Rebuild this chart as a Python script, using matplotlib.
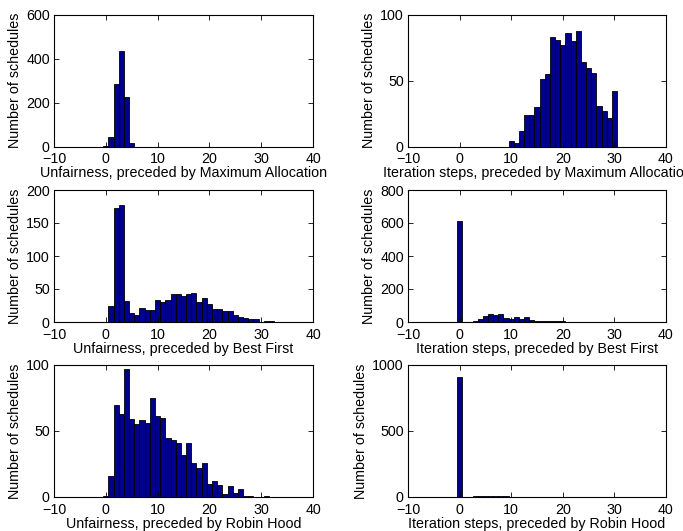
import matplotlib
matplotlib.use("Agg")
import matplotlib.pyplot as plt
from matplotlib.ticker import FixedLocator

plt.rcParams['font.family'] = ['Liberation Sans', 'DejaVu Sans']
plt.rcParams['font.size'] = 10.3

# ---- data (bin centres and counts) ----
unf_ma_bins = list(range(0, 33))
unf_ma_counts = [1, 44, 285, 438, 224, 15] + [0] * 27

iter_ma_bins = list(range(0, 31))
iter_ma_counts = [0] * 10 + [4, 3, 12, 24, 24, 30, 51, 55, 83, 81, 77, 86, 80, 88,
                             64, 60, 56, 31, 27, 22, 42]

unf_bf_bins = list(range(0, 33))
unf_bf_counts = [0, 25, 173, 178, 32, 13, 10, 21, 18, 18, 34, 30, 34, 43, 43, 40, 42,
                 44, 30, 36, 28, 20, 20, 17, 17, 10, 8, 6, 4, 5, 0, 1, 1]

iter_bf_bins = list(range(0, 31))
iter_bf_counts = [615, 2, 1, 9, 20, 38, 47, 44, 48, 22, 21, 30, 19, 30, 13, 5, 5, 6,
                  4, 8, 4, 3, 3, 2, 2, 2, 1, 1, 1, 0, 1]

unf_rh_bins = list(range(0, 32))
unf_rh_counts = [1, 16, 70, 63, 97, 59, 55, 58, 56, 75, 61, 60, 45, 43, 41, 32, 41,
                 26, 22, 26, 10, 12, 9, 2, 8, 3, 6, 1, 1, 0, 0, 1]

iter_rh_bins = list(range(0, 31))
iter_rh_counts = [911, 1, 3, 8, 9, 10, 9, 10, 6, 4, 3, 2, 2, 1, 1, 1, 1, 1, 1, 1,
                  1, 1, 1, 1, 1, 1, 1, 1, 1, 1, 1]

xlabels = ["Unfairness, preceded by Maximum Allocation",
           "Iteration steps, preceded by Maximum Allocation",
           "Unfairness, preceded by Best First",
           "Iteration steps, preceded by Best First",
           "Unfairness, preceded by Robin Hood",
           "Iteration steps, preceded by Robin Hood"]
yticks = [[0, 200, 400, 600], [0, 50, 100],
          [0, 50, 100, 150, 200], [0, 200, 400, 600, 800],
          [0, 50, 100], [0, 500, 1000]]
xticks = [-10, 0, 10, 20, 30, 40]
ylabel = "Number of schedules"

series = [(unf_ma_bins, unf_ma_counts), (iter_ma_bins, iter_ma_counts),
          (unf_bf_bins, unf_bf_counts), (iter_bf_bins, iter_bf_counts),
          (unf_rh_bins, unf_rh_counts), (iter_rh_bins, iter_rh_counts)]

W, H = 683, 531
fig = plt.figure(figsize=(W / 100, H / 100), dpi=100)

cols = [(54, 313), (408, 666)]
rows = [(15, 146.5), (190, 322), (365, 497)]
bar_color = (0, 0, 0.5625)

for i, ((bins, counts), xl, yt) in enumerate(zip(series, xlabels, yticks)):
    r, c = divmod(i, 2)
    x0, x1 = cols[c]
    y0, y1 = rows[r]
    ax = fig.add_axes([x0 / W, 1 - y1 / H, (x1 - x0) / W, (y1 - y0) / H])
    ax.bar(bins, counts, width=1.0, color=bar_color, edgecolor='black',
           linewidth=0.6, align='center')
    ax.set_xlim(-10, 40)
    ax.set_ylim(yt[0], yt[-1])
    ax.xaxis.set_major_locator(FixedLocator(xticks))
    ax.yaxis.set_major_locator(FixedLocator(yt))
    ax.set_xticklabels([f"{v:d}".replace('-', '\u2212') for v in xticks])
    ax.set_yticklabels([str(v) for v in yt])
    ax.tick_params(direction='in', length=3.5, width=0.6, top=True, right=True,
                   labelsize=10.3)
    ax.tick_params(axis='x', pad=4)
    ax.tick_params(axis='y', pad=3)
    for s in ax.spines.values():
        s.set_linewidth(0.8)
    ax.set_xlabel(xl, fontsize=10.3, labelpad=0)
    ax.set_ylabel(ylabel, fontsize=10.3, labelpad=3)

fig.savefig("out.png", dpi=100)
